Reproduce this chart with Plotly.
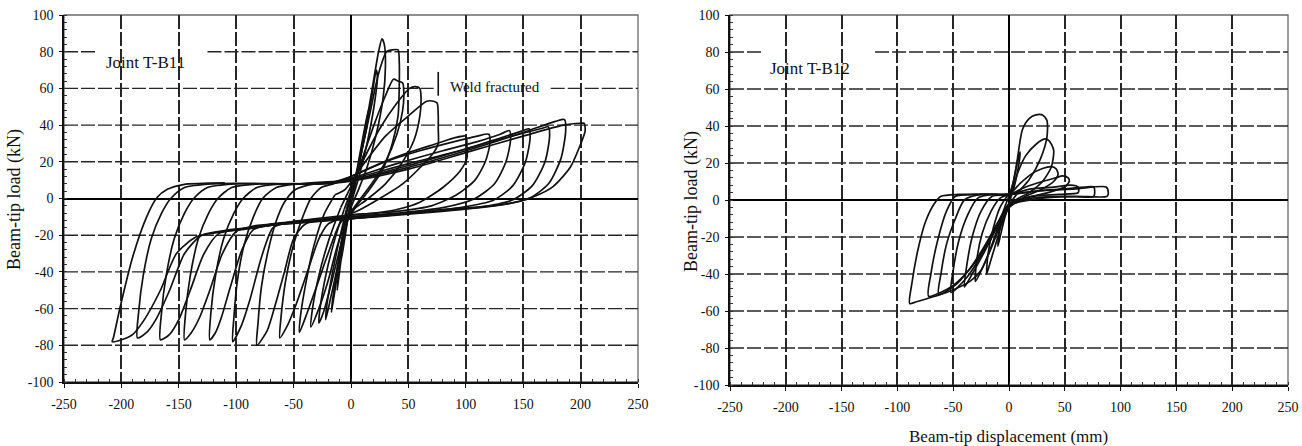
import plotly.graph_objects as go

# ---------------------------------------------------------------------------
# Axis ticks
# ---------------------------------------------------------------------------
disp_ticks = [-250, -200, -150, -100, -50, 0, 50, 100, 150, 200, 250]
load_ticks = [-100, -80, -60, -40, -20, 0, 20, 40, 60, 80, 100]

# ---------------------------------------------------------------------------
# Joint T-B11 : beam-tip displacement (mm) / beam-tip load (kN), cycle by cycle
# ---------------------------------------------------------------------------
b11_c1_disp = [0, 5, 10, 15, 14, 10, 5, 0, -5, -9, -12, -11, -7, -3, 0]
b11_c1_load = [0, 15, 32, 48, 40, 28, 12, -2, -18, -35, -50, -42, -28, -12, 0]

b11_c2_disp = [0, 5, 12, 18, 22, 23, 20, 14, 7, 0, -6, -12, -17, -16, -12, -7, -2]
b11_c2_load = [0, 12, 35, 55, 70, 66, 50, 30, 12, -3, -20, -42, -62, -55, -38, -18, -3]

b11_c3_disp = [-2, 3, 10, 18, 24, 27, 29, 30, 28, 22, 14, 6, 0, -6, -12, -18, -22, -21, -16, -10, -4]
b11_c3_load = [-3, 8, 30, 58, 80, 87, 84, 72, 55, 35, 17, 4, -5, -20, -38, -55, -66, -58, -40, -22, -6]

b11_c4_disp = [-4, 0, 8, 16, 24, 31, 36, 41, 42, 42, 41, 36, 27, 15, 5, -3, -10, -17, -24, -28, -27, -22, -14, -6]
b11_c4_load = [-6, 3, 22, 45, 68, 80, 81, 81, 75, 60, 45, 30, 15, 4, -4, -12, -28, -46, -62, -68, -60, -42, -22, -6]

b11_c5_disp = [-6, 0, 10, 20, 30, 37, 41, 45, 46, 45, 40, 30, 18, 6, -3, -12, -20, -28, -35, -34, -28, -19, -9]
b11_c5_load = [-6, 4, 22, 40, 56, 65, 64, 63, 58, 48, 35, 20, 8, -2, -10, -26, -45, -60, -70, -62, -42, -22, -5]

b11_c6_disp = [-9, -2, 10, 25, 40, 51, 56, 60, 61, 60, 55, 45, 30, 15, 0, -10, -20, -30, -38, -45, -44, -39, -32,
               -23, -14]
b11_c6_load = [-5, 4, 20, 38, 52, 60, 61, 60, 55, 45, 32, 20, 8, 0, -7, -14, -30, -48, -62, -73, -64, -45, -25,
               -8, 2]

b11_c7_disp = [-14, -5, 10, 30, 50, 66, 72, 75, 76, 76, 76, 72, 62, 45, 25, 5, -10, -20, -28, -38, -48, -56, -62,
               -61, -57, -50, -42, -35, -26, -15]
b11_c7_load = [2, 5, 18, 34, 45, 53, 53, 52, 45, 38, 30, 25, 18, 8, 0, -7, -11, -14, -22, -40, -58, -70, -76,
               -65, -45, -25, -10, 0, 6, 8]

b11_c8_disp = [-15, 0, 25, 50, 75, 90, 100, 101, 101, 95, 80, 60, 40, 20, 0, -20, -40, -50, -58, -66, -73, -82,
               -81, -78, -72, -65, -58, -48, -32, -15]
b11_c8_load = [8, 12, 19, 25, 30, 33, 34, 28, 22, 15, 6, -2, -6, -8, -9, -11, -14, -22, -40, -58, -72, -80,
               -68, -48, -28, -12, -2, 5, 8, 9]

b11_c9_disp = [-15, 0, 30, 60, 90, 110, 120, 121, 117, 108, 92, 70, 40, 0, -30, -55, -68, -78, -88, -96, -103,
               -102, -99, -93, -85, -77, -65, -45, -25]
b11_c9_load = [9, 12, 20, 26, 31, 34, 35, 30, 20, 10, 2, -4, -7, -9, -11, -13, -16, -32, -55, -70, -78,
               -65, -45, -25, -10, 0, 6, 8, 9]

b11_c10_disp = [-25, -10, 0, 40, 80, 110, 130, 138, 139, 135, 125, 108, 80, 40, 0, -40, -70, -85, -95, -105, -113,
                -118, -123, -122, -118, -111, -102, -94, -82, -60, -35]
b11_c10_load = [9, 9.5, 11, 19, 26, 31, 35, 37, 32, 20, 8, 0, -5, -8, -10, -12, -14, -17, -28, -48, -65,
                -73, -77, -62, -42, -22, -8, 0, 6, 8, 8]

b11_c11_disp = [-35, -15, 0, 50, 100, 130, 150, 155, 156, 152, 141, 124, 95, 50, 0, -50, -85, -100, -112, -123,
                -132, -139, -145, -144, -140, -133, -124, -116, -104, -80, -45]
b11_c11_load = [8, 8.5, 10.5, 19, 27, 33, 37, 38, 33, 20, 7, -1, -5, -8, -10, -13, -15, -18, -30, -50,
                -65, -73, -77, -62, -42, -22, -8, 0, 6, 8, 8]

b11_c12_disp = [-45, -20, 0, 50, 100, 140, 165, 172, 173, 169, 158, 140, 110, 60, 0, -50, -95, -115, -128, -140,
                -150, -158, -166, -165, -161, -154, -145, -137, -125, -100, -55]
b11_c12_load = [8, 8.5, 10, 18, 27, 34, 38, 39, 34, 20, 7, -1, -5, -8, -11, -13, -17, -19, -30, -50,
                -66, -74, -77, -62, -42, -22, -8, 0, 6, 8, 8]

b11_c13_disp = [-55, -25, 0, 50, 100, 150, 178, 186, 187, 183, 172, 155, 125, 70, 0, -60, -105, -130, -145, -158,
                -170, -178, -186, -185, -181, -174, -165, -157, -145, -120, -60]
b11_c13_load = [8, 8, 10, 17, 26, 36, 42, 43, 37, 22, 8, 0, -4, -7, -11, -14, -17, -20, -30, -50,
                -66, -73, -76, -62, -42, -22, -8, 0, 6, 8, 8]

b11_c14_disp = [-60, -30, 0, 50, 100, 150, 185, 200, 203, 204, 199, 191, 176, 159, 136, 80, 0, -60, -110, -135,
                -152, -166, -180, -190, -200, -208, -207, -201, -190, -178, -169, -160, -146, -110]
b11_c14_load = [8, 8, 9.5, 16, 25, 34, 40, 41, 41, 37, 28, 17, 6.5, 1, -3, -6, -11, -14, -18, -21,
                -30, -50, -66, -74, -77, -78, -76, -59, -31.5, -10, 0.5, 5, 7.6, 8.5]

# ---------------------------------------------------------------------------
# Joint T-B12
# ---------------------------------------------------------------------------
b12_c1_disp = [0, 4, 8, 10, 9, 5, 0, -4, -8, -10, -9, -5, 0]
b12_c1_load = [0, 10, 22, 26, 20, 8, -2, -10, -20, -25, -18, -6, 2]

b12_c2_disp = [0, 4, 7, 12, 18, 24, 30, 34, 34, 28, 18, 8, 0, -6, -12, -17, -20, -19, -14, -8, -3]
b12_c2_load = [2, 10, 20, 38, 44, 46, 46, 43, 34, 22, 11, 4, -3, -12, -24, -34, -40, -30, -15, -4, 1]

b12_c3_disp = [-3, 3, 8, 15, 24, 32, 36, 40, 38, 30, 18, 6, 0, -8, -16, -24, -30, -29, -24, -16, -8, 0]
b12_c3_load = [1, 6, 15, 24, 30, 33, 32, 27, 18, 10, 4, 0, -4, -14, -26, -37, -44, -33, -18, -6, 1, 3]

b12_c4_disp = [0, 10, 20, 30, 38, 42, 44, 40, 30, 15, 0, -10, -22, -33, -40, -38, -33, -25, -15, 0]
b12_c4_load = [3, 9, 14, 17, 18, 17, 14, 10, 6, 2, -4, -14, -28, -40, -47, -36, -20, -6, 2, 3]

b12_c5_disp = [0, 15, 30, 42, 48, 53, 54, 50, 35, 15, 0, -12, -25, -38, -52, -50, -45, -37, -28, -15, 0]
b12_c5_load = [3, 7, 10, 12, 13, 12, 10, 7, 4, 1, -4, -15, -30, -42, -50, -38, -22, -8, 1, 3, 3]

b12_c6_disp = [0, 20, 40, 55, 62, 62, 45, 20, 0, -10, -22, -35, -48, -63, -61, -56, -48, -40, -25, 0]
b12_c6_load = [3, 6, 7, 8, 7, 4, 3, 2, -2, -12, -25, -37, -46, -51, -40, -24, -10, 0, 3, 3]

b12_c7_disp = [0, 25, 50, 68, 76, 76, 50, 20, 0, -10, -22, -36, -52, -72, -70, -64, -56, -48, -30, 0]
b12_c7_load = [3, 5, 6, 7, 7, 2, 2, 1, -3, -13, -26, -38, -47, -52, -40, -22, -6, 2, 3, 3]

b12_c8_disp = [0, 30, 60, 87, 89, 88, 60, 30, 0, -8, -17, -25, -35, -56, -83, -89, -87, -82, -75, -67, -61, -45,
               -20, 0]
b12_c8_load = [3, 5, 6, 7, 4, 2, 2, 1, -3, -12, -27, -38, -44, -50, -55, -56, -45, -28, -12, -2, 2, 3,
               3, 3]

B11_CYCLES = [
    (b11_c1_disp, b11_c1_load), (b11_c2_disp, b11_c2_load), (b11_c3_disp, b11_c3_load),
    (b11_c4_disp, b11_c4_load), (b11_c5_disp, b11_c5_load), (b11_c6_disp, b11_c6_load),
    (b11_c7_disp, b11_c7_load), (b11_c8_disp, b11_c8_load), (b11_c9_disp, b11_c9_load),
    (b11_c10_disp, b11_c10_load), (b11_c11_disp, b11_c11_load), (b11_c12_disp, b11_c12_load),
    (b11_c13_disp, b11_c13_load), (b11_c14_disp, b11_c14_load),
]
B12_CYCLES = [
    (b12_c1_disp, b12_c1_load), (b12_c2_disp, b12_c2_load), (b12_c3_disp, b12_c3_load),
    (b12_c4_disp, b12_c4_load), (b12_c5_disp, b12_c5_load), (b12_c6_disp, b12_c6_load),
    (b12_c7_disp, b12_c7_load), (b12_c8_disp, b12_c8_load),
]

# displacement at which the weld let go (end of the cycle-7 push)
weld_fracture_disp = max(b11_c7_disp)

SERIF = "Liberation Serif, Times New Roman, serif"
INK = "#111111"
GRID = "#262626"
GRID_DASH = "14px,3px"

fig = go.Figure()

for xa, ya, cycles in (("x", "y", B11_CYCLES), ("x2", "y2", B12_CYCLES)):
    for disp, load in cycles:
        fig.add_trace(go.Scatter(
            x=disp, y=load, xaxis=xa, yaxis=ya, mode="lines",
            line=dict(color=INK, width=1.7, shape="spline", smoothing=0.7),
            showlegend=False, hoverinfo="skip",
        ))


def x_axis(domain, anchor):
    return dict(
        domain=domain, anchor=anchor, range=[-250, 250], automargin=False,
        tickmode="array", tickvals=disp_ticks, ticktext=[str(v) for v in disp_ticks],
        tickfont=dict(family=SERIF, size=14, color=INK),
        ticks="outside", ticklen=4, tickcolor=INK, tickwidth=1.2, ticklabelstandoff=4,
        minor=dict(tickmode="linear", tick0=0, dtick=10, ticks="inside", ticklen=3,
                   tickcolor="#333", showgrid=False),
        showgrid=True, gridcolor=GRID, gridwidth=1.5, griddash=GRID_DASH,
        zeroline=True, zerolinecolor="#000", zerolinewidth=1.8,
        showline=True, linecolor=INK, linewidth=1.6, mirror=False,
        fixedrange=True,
    )


def y_axis(domain, anchor):
    return dict(
        domain=domain, anchor=anchor, range=[-100, 100], automargin=False,
        tickmode="array", tickvals=load_ticks, ticktext=[str(v) for v in load_ticks],
        tickfont=dict(family=SERIF, size=14, color=INK),
        ticks="outside", ticklen=3, tickcolor=INK, tickwidth=1.2, ticklabelstandoff=3,
        minor=dict(tickmode="linear", tick0=0, dtick=4, ticks="inside", ticklen=3,
                   tickcolor="#333", showgrid=False),
        showgrid=False,
        zeroline=True, zerolinecolor="#000", zerolinewidth=1.8,
        showline=True, linecolor=INK, linewidth=1.6, mirror=False,
        fixedrange=True,
    )


W, H = 1302, 446
fig.update_layout(
    width=W, height=H,
    margin=dict(l=0, r=0, t=0, b=0, autoexpand=False),
    paper_bgcolor="white", plot_bgcolor="white",
    xaxis=x_axis([64 / W, 638 / W], "y"),
    yaxis=y_axis([1 - 382 / H, 1 - 15 / H], "x"),
    xaxis2=x_axis([730 / W, 1288 / W], "y2"),
    yaxis2=y_axis([1 - 385 / H, 1 - 15 / H], "x2"),
)

# horizontal grid, broken where a label sits on a grid line
grid_breaks = {
    ("x", "y"): {80: (-221, -125), 60: (72, 174)},
    ("x2", "y2"): {80: (-221, -120)},
}
for (xr, yr), breaks in grid_breaks.items():
    for level in load_ticks:
        if level in (-100, 0, 100):
            continue
        spans = [(-250, 250)]
        if level in breaks:
            b0, b1 = breaks[level]
            spans = [(-250, b0), (b1, 250)]
        for s0, s1 in spans:
            fig.add_shape(type="line", xref=xr, yref=yr, x0=s0, x1=s1, y0=level, y1=level,
                          line=dict(color=GRID, width=1.4, dash=GRID_DASH), layer="below")

# plot frames (top / right edges)
for xr, yr in (("x domain", "y domain"), ("x2 domain", "y2 domain")):
    fig.add_shape(type="rect", xref=xr, yref=yr, x0=0, x1=1, y0=0, y1=1,
                  line=dict(color="#6a6a6a", width=1.3), layer="below")

# weld fracture marker
fig.add_shape(type="line", xref="x", yref="y", x0=weld_fracture_disp, x1=weld_fracture_disp,
              y0=56, y1=69, line=dict(color=INK, width=1.6), layer="above")

fig.add_annotation(text="Joint T-B11", x=-179, y=74, xref="x", yref="y", showarrow=False,
                   xanchor="center", yanchor="middle",
                   font=dict(family=SERIF, size=17, color=INK))
fig.add_annotation(text="Weld fractured", x=125, y=61, xref="x", yref="y", showarrow=False,
                   xanchor="center", yanchor="middle",
                   font=dict(family=SERIF, size=15, color=INK))
fig.add_annotation(text="Joint T-B12", x=-178, y=71, xref="x2", yref="y2", showarrow=False,
                   xanchor="center", yanchor="middle",
                   font=dict(family=SERIF, size=17, color=INK))

# axis titles
fig.add_annotation(text="Beam-tip load (kN)", x=15 / W, y=1 - 200 / H, xref="paper", yref="paper",
                   xanchor="center", yanchor="middle",
                   textangle=-90, showarrow=False, font=dict(family=SERIF, size=18, color=INK))
fig.add_annotation(text="Beam-tip load (kN)", x=691 / W, y=1 - 202 / H, xref="paper", yref="paper",
                   xanchor="center", yanchor="middle",
                   textangle=-90, showarrow=False, font=dict(family=SERIF, size=18, color=INK))
fig.add_annotation(text="Beam-tip displacement (mm)", x=1008 / W, y=1 - 436 / H, xref="paper", yref="paper",
                   xanchor="center", yanchor="middle",
                   showarrow=False, font=dict(family=SERIF, size=17, color=INK))

fig.write_html("out.html")
